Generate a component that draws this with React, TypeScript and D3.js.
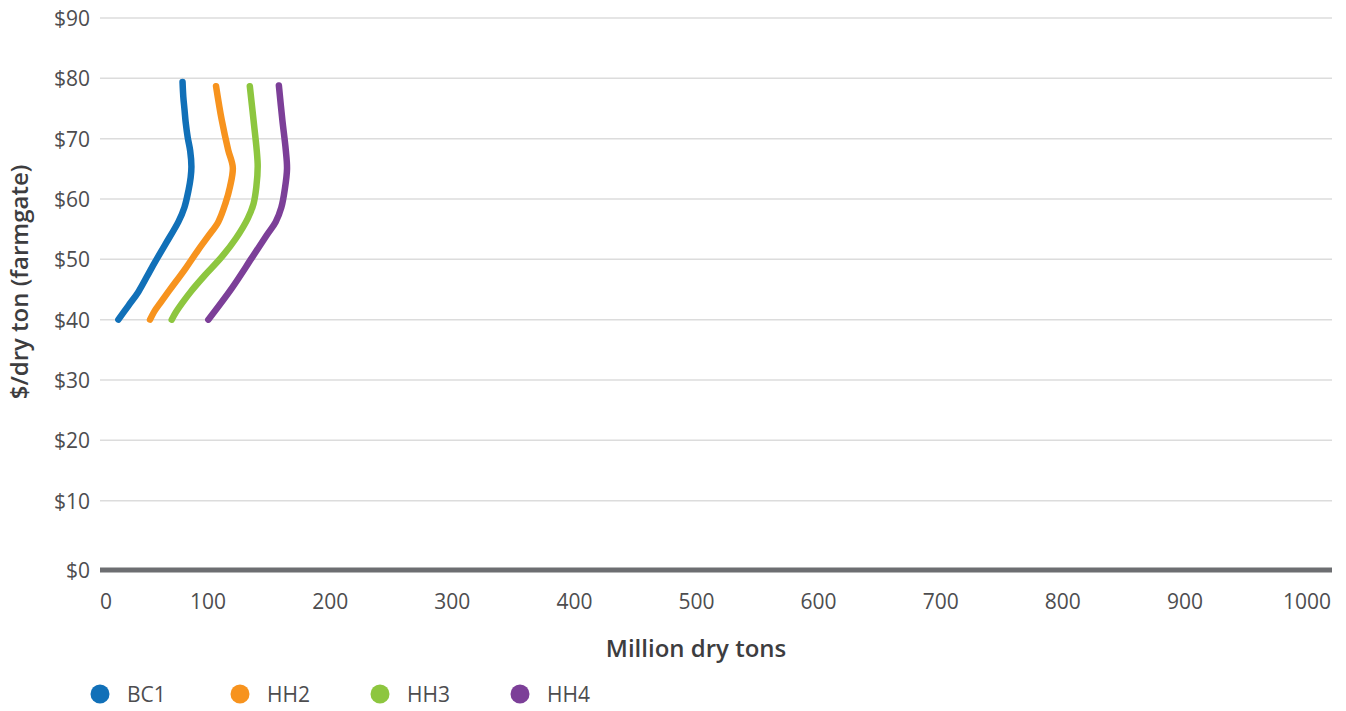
import React from "react";
import * as d3 from "d3";

const W = 1346;
const H = 711;

const xTicks = [0, 100, 200, 300, 400, 500, 600, 700, 800, 900, 1000];
const yTicks = [0, 10, 20, 30, 40, 50, 60, 70, 80, 90];

// [million dry tons, $/dry ton]
const BC1: [number, number][] = [
  [14.9, 40], [23, 42.3], [31.1, 44.6], [42.0, 48.6], [52.8, 52.4], [63.6, 56.2],
  [68.5, 58.6], [71.8, 61.4], [73.6, 63.6], [74.2, 65.4], [73.2, 68.0],
  [71.2, 70.2], [69.6, 72.6], [68.6, 74.8], [67.6, 77.0], [67.0, 79.4],
];
const HH2: [number, number][] = [
  [40.6, 40], [44.5, 41.5], [48.7, 42.7], [55.4, 44.6], [69.8, 48.6], [79.5, 51.5],
  [87.7, 53.8], [96.0, 56.2], [102.0, 59.4], [105.5, 62.0], [107.8, 65.2],
  [104.1, 68.1], [98.8, 73.1], [94.2, 78.7],
];
const HH3: [number, number][] = [
  [58.2, 40], [61.8, 41.3], [66.5, 42.7], [73.5, 44.6], [84.4, 47.2], [98.8, 50.4],
  [110.4, 53.5], [120.0, 56.8], [124.6, 59.2], [126.9, 62.0], [128.0, 65.4],
  [127.2, 68.1], [124.6, 73.1], [121.6, 78.7],
];
const HH4: [number, number][] = [
  [87.9, 40], [106.9, 45.2], [123.1, 50.2], [135.3, 54.0], [142.6, 56.2],
  [147.2, 58.6], [150.0, 61.6], [151.8, 65.0], [150.8, 68.1], [148.0, 73.1],
  [145.2, 78.8],
];

const seriesNames = ["BC1", "HH2", "HH3", "HH4"];
const seriesData = [BC1, HH2, HH3, HH4];
const colors = ["#1170b8", "#f7931e", "#8dc63f", "#7c3f98"];

const textColor = "#4d4d4f";
const font = "'Open Sans', sans-serif";

export default function App() {
  const x = d3.scaleLinear().domain([0, 1000]).range([100, 1332]);
  const y = d3.scaleLinear().domain([0, 90]).range([561, 18]);
  const xLabel = d3.scaleLinear().domain([0, 1000]).range([86, 1307]);
  const line = d3
    .line<[number, number]>()
    .x((d) => x(d[0]))
    .y((d) => y(d[1]))
    .curve(d3.curveCatmullRom.alpha(0.5));

  const baseY = y(0) + 9;
  const legendX = d3.scaleLinear().domain([0, 3]).range([100, 520]);

  return (
    <svg
      width={W}
      height={H}
      style={{ position: "absolute", left: 0, top: 0, background: "#fff" }}
      fontFamily={font}
    >
      {yTicks.filter((t) => t > 0).map((t) => (
        <line key={"g" + t} x1={x(0)} x2={x(1000)} y1={y(t)} y2={y(t)} stroke="#dcdcdc" strokeWidth={1.5} />
      ))}
      <line x1={x(0)} x2={x(1000)} y1={baseY} y2={baseY} stroke="#6d6e71" strokeWidth={5} />
      {yTicks.map((t) => (
        <text
          key={"yl" + t}
          x={90}
          y={t === 0 ? baseY : y(t)}
          textAnchor="end"
          dominantBaseline="central"
          fontSize={21}
          fill={textColor}
        >
          {"$" + t}
        </text>
      ))}
      {xTicks.map((t) => (
        <text
          key={"xl" + t}
          x={t === 0 ? x(0) + 6 : xLabel(t)}
          y={609}
          textAnchor="middle"
          fontSize={21}
          fill={textColor}
        >
          {t}
        </text>
      ))}
      <text x={696} y={657} textAnchor="middle" fontSize={24} fontWeight={600} fill="#3d3d3f">
        Million dry tons
      </text>
      <text
        transform={`translate(28, 282) rotate(-90)`}
        textAnchor="middle"
        fontSize={24}
        fontWeight={600}
        fill="#3d3d3f"
      >
        $/dry ton (farmgate)
      </text>
      {seriesData.map((s, i) => (
        <path
          key={seriesNames[i]}
          d={line(s) || ""}
          fill="none"
          stroke={colors[i]}
          strokeWidth={6.5}
          strokeLinecap="round"
          strokeLinejoin="round"
        />
      ))}
      {seriesNames.map((n, i) => (
        <g key={"lg" + n} transform={`translate(${legendX(i)}, 694)`}>
          <circle r={9.5} fill={colors[i]} />
          <text x={27} y={0} dominantBaseline="central" fontSize={21} fill={textColor}>
            {n}
          </text>
        </g>
      ))}
    </svg>
  );
}
